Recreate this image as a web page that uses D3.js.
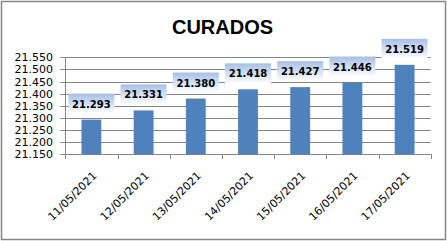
<!DOCTYPE html>
<html>
<head>
<meta charset="utf-8">
<script src="https://cdn.jsdelivr.net/npm/d3@7"></script>
<style>
  html, body { margin: 0; padding: 0; background: #fff; }
  svg { display: block; }
</style>
</head>
<body>
<svg id="chart" width="447" height="241"></svg>
<script>
const title = "CURADOS";
const categories = ["11/05/2021", "12/05/2021", "13/05/2021", "14/05/2021", "15/05/2021", "16/05/2021", "17/05/2021"];
const values = [21.293, 21.331, 21.380, 21.418, 21.427, 21.446, 21.519];
const yTicks = [21.150, 21.200, 21.250, 21.300, 21.350, 21.400, 21.450, 21.500, 21.550];

(function () {
const W = 447, H = 241;
const svg = d3.select("#chart");
const fmt = v => d3.format(".3f")(v);

const defs = svg.append("defs");
const grad = defs.append("linearGradient").attr("id", "lblGrad")
  .attr("x1", 0).attr("y1", 0).attr("x2", 0).attr("y2", 1);
grad.append("stop").attr("offset", "0%").attr("stop-color", "#a6bfe7");
grad.append("stop").attr("offset", "100%").attr("stop-color", "#ffffff");

// outer frame
svg.append("rect").attr("x", 1.5).attr("y", 1.5).attr("width", W - 3).attr("height", H - 3)
  .attr("fill", "#fff").attr("stroke", "#868686").attr("stroke-width", 1.5);

const pL = 65.3, pR = 430.7, pT = 57.3, pB = 154.3;
const x = d3.scaleBand().domain(categories).range([pL, pR]).paddingInner(0.62).paddingOuter(0.31);
const xb = d3.scaleBand().domain(categories).range([pL, pR]);
const y = d3.scaleLinear().domain([yTicks[0], yTicks[yTicks.length - 1]]).range([pB, pT]);

// gridlines
svg.append("g").selectAll("line").data(yTicks).join("line")
  .attr("x1", pL - 5).attr("x2", pR)
  .attr("y1", d => Math.round(y(d)) + 0.5).attr("y2", d => Math.round(y(d)) + 0.5)
  .attr("stroke", "#868686").attr("stroke-width", 1);

// y axis line
svg.append("line").attr("x1", Math.round(pL) + 0.5).attr("x2", Math.round(pL) + 0.5)
  .attr("y1", Math.round(pT)).attr("y2", Math.round(pB) + 0.5)
  .attr("stroke", "#868686");

// y labels
svg.append("g").selectAll("text").data(yTicks).join("text")
  .attr("x", 53).attr("y", d => y(d) + 4)
  .attr("text-anchor", "end")
  .attr("font-family", "DejaVu Sans").attr("font-size", 11).attr("fill", "#000")
  .text(fmt);

// x tick marks at boundaries
const bounds = categories.map(c => xb(c)).concat([pR]);
svg.append("g").selectAll("line").data(bounds).join("line")
  .attr("x1", d => Math.round(d) + 0.5).attr("x2", d => Math.round(d) + 0.5)
  .attr("y1", Math.round(pB)).attr("y2", Math.round(pB) + 5)
  .attr("stroke", "#868686");

// bars
svg.append("g").selectAll("rect").data(values).join("rect")
  .attr("x", (d, i) => x(categories[i]))
  .attr("width", x.bandwidth())
  .attr("y", d => y(d))
  .attr("height", d => y(yTicks[0]) - y(d))
  .attr("fill", "#4f81bd");

// data labels
const lbl = svg.append("g").selectAll("g").data(values).join("g")
  .attr("transform", (d, i) => `translate(${x(categories[i]) + x.bandwidth() / 2},${y(d) - 6})`);
lbl.append("rect").attr("x", -23).attr("y", -20).attr("width", 46).attr("height", 20)
  .attr("fill", "url(#lblGrad)");
lbl.append("text").attr("x", 0).attr("y", -6)
  .attr("text-anchor", "middle")
  .attr("font-family", "DejaVu Sans").attr("font-weight", "bold").attr("font-size", 10)
  .attr("fill", "#000")
  .text(fmt);

// x labels
svg.append("g").selectAll("text").data(categories).join("text")
  .attr("transform", c => `translate(${xb(c) + xb.bandwidth() / 2 + 6},${pB + 22}) rotate(-45)`)
  .attr("text-anchor", "end")
  .attr("font-family", "DejaVu Sans").attr("font-size", 11).attr("fill", "#000")
  .text(c => c);

// title
svg.append("text").attr("x", 222.5).attr("y", 34)
  .attr("text-anchor", "middle")
  .attr("font-family", "Liberation Sans").attr("font-weight", "bold").attr("font-size", 20)
  .attr("fill", "#000")
  .text(title);
})();
</script>
</body>
</html>
